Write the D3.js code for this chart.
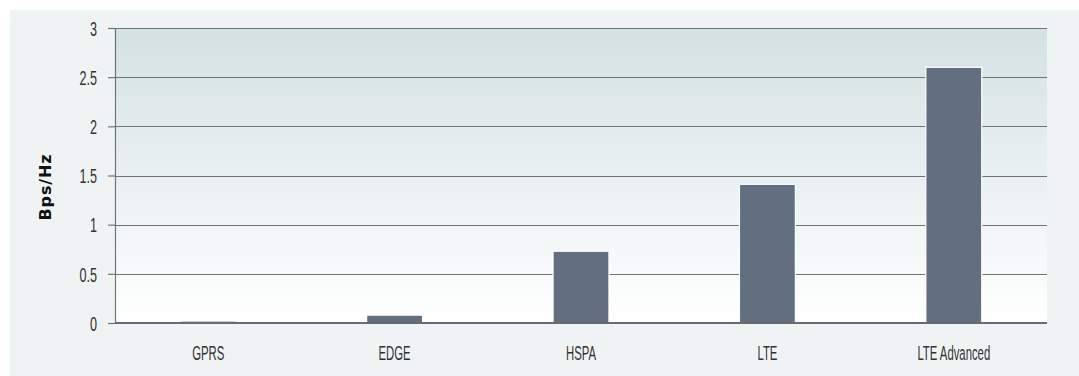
<!DOCTYPE html>
<html>
<head>
<meta charset="utf-8">
<script src="https://cdn.jsdelivr.net/npm/d3@7"></script>
<style>
  html, body { margin: 0; padding: 0; background: #ffffff; }
  svg { display: block; }
</style>
</head>
<body>
<svg id="chart" width="1079" height="376"></svg>
<script>
const categories = ["GPRS", "EDGE", "HSPA", "LTE", "LTE Advanced"];
const values = [0.02, 0.08, 0.73, 1.41, 2.6];
const yTicks = [0, 0.5, 1, 1.5, 2, 2.5, 3];
const yTickLabels = ["0", "0.5", "1", "1.5", "2", "2.5", "3"];
const yTitle = "Bps/Hz";

const W = 1079, H = 376;
const margin = { left: 115, right: 32, top: 28, bottom: 53 };
const svg = d3.select("#chart");

// outer panel
svg.append("rect").attr("x", 10).attr("y", 10).attr("width", W - 10).attr("height", H - 10).attr("fill", "#eff3f4");

const x = d3.scaleBand().domain(categories).range([margin.left, W - margin.right]).paddingInner(0.7).paddingOuter(0.35);
const y = d3.scaleLinear().domain([0, 3]).range([H - margin.bottom, margin.top]);

const defs = svg.append("defs");
const grad = defs.append("linearGradient").attr("id", "plotgrad").attr("x1", 0).attr("y1", 0).attr("x2", 0).attr("y2", 1);
grad.append("stop").attr("offset", "0%").attr("stop-color", "#d4e1e3");
grad.append("stop").attr("offset", "100%").attr("stop-color", "#ffffff");

svg.append("rect")
  .attr("x", margin.left).attr("y", y(3))
  .attr("width", W - margin.right - margin.left).attr("height", y(0) - y(3))
  .attr("fill", "url(#plotgrad)");

// gridlines
svg.append("g").selectAll("line").data(yTicks.filter(d => d > 0)).join("line")
  .attr("x1", margin.left).attr("x2", W - margin.right)
  .attr("y1", d => Math.round(y(d)) + 0.5).attr("y2", d => Math.round(y(d)) + 0.5)
  .attr("stroke", "#6f7475").attr("stroke-width", 1.2);

// bars
svg.append("g").selectAll("rect").data(values).join("rect")
  .attr("x", (d, i) => x(categories[i]))
  .attr("y", d => y(d))
  .attr("width", x.bandwidth())
  .attr("height", d => y(0) - y(d))
  .attr("fill", "#636f80")
  .attr("stroke", "#ffffff")
  .attr("stroke-width", 1.2);

// y axis
const yAxis = d3.axisLeft(y).tickValues(yTicks).tickFormat((d, i) => yTickLabels[i]).tickSize(7).tickSizeOuter(0);
const gy = svg.append("g").attr("transform", `translate(${margin.left},0)`).call(yAxis);
gy.select(".domain").attr("stroke", "#6f7475").attr("stroke-width", 1.2);
gy.selectAll(".tick line").attr("stroke", "#6f7475").attr("stroke-width", 1.2);
gy.selectAll(".tick text")
  .attr("x", null).attr("dy", null)
  .attr("dominant-baseline", "central")
  .attr("transform", "translate(-18,0) scale(0.6,1)")
  .attr("text-anchor", "end")
  .attr("fill", "#333")
  .style("font-family", "'Liberation Sans', Arial, sans-serif")
  .style("font-size", "21px");

// zero baseline
svg.append("line")
  .attr("x1", margin.left).attr("x2", W - margin.right)
  .attr("y1", y(0)).attr("y2", y(0))
  .attr("stroke", "#666b6c").attr("stroke-width", 2);

// x labels
svg.append("g").selectAll("text").data(categories).join("text")
  .attr("transform", d => `translate(${x(d) + x.bandwidth() / 2},${H - 23}) scale(0.54,1)`)
  .attr("text-anchor", "middle")
  .attr("dominant-baseline", "central")
  .attr("fill", "#333")
  .style("font-family", "'Liberation Sans', Arial, sans-serif")
  .style("font-size", "21px")
  .text(d => d);

// y title
svg.append("text")
  .attr("transform", `translate(45,187) rotate(-90)`)
  .attr("text-anchor", "middle")
  .attr("dominant-baseline", "central")
  .attr("fill", "#111")
  .style("font-family", "'DejaVu Sans', sans-serif")
  .style("font-weight", "bold")
  .style("font-size", "16px")
  .style("letter-spacing", "0.9px")
  .text(yTitle);
</script>
</body>
</html>
